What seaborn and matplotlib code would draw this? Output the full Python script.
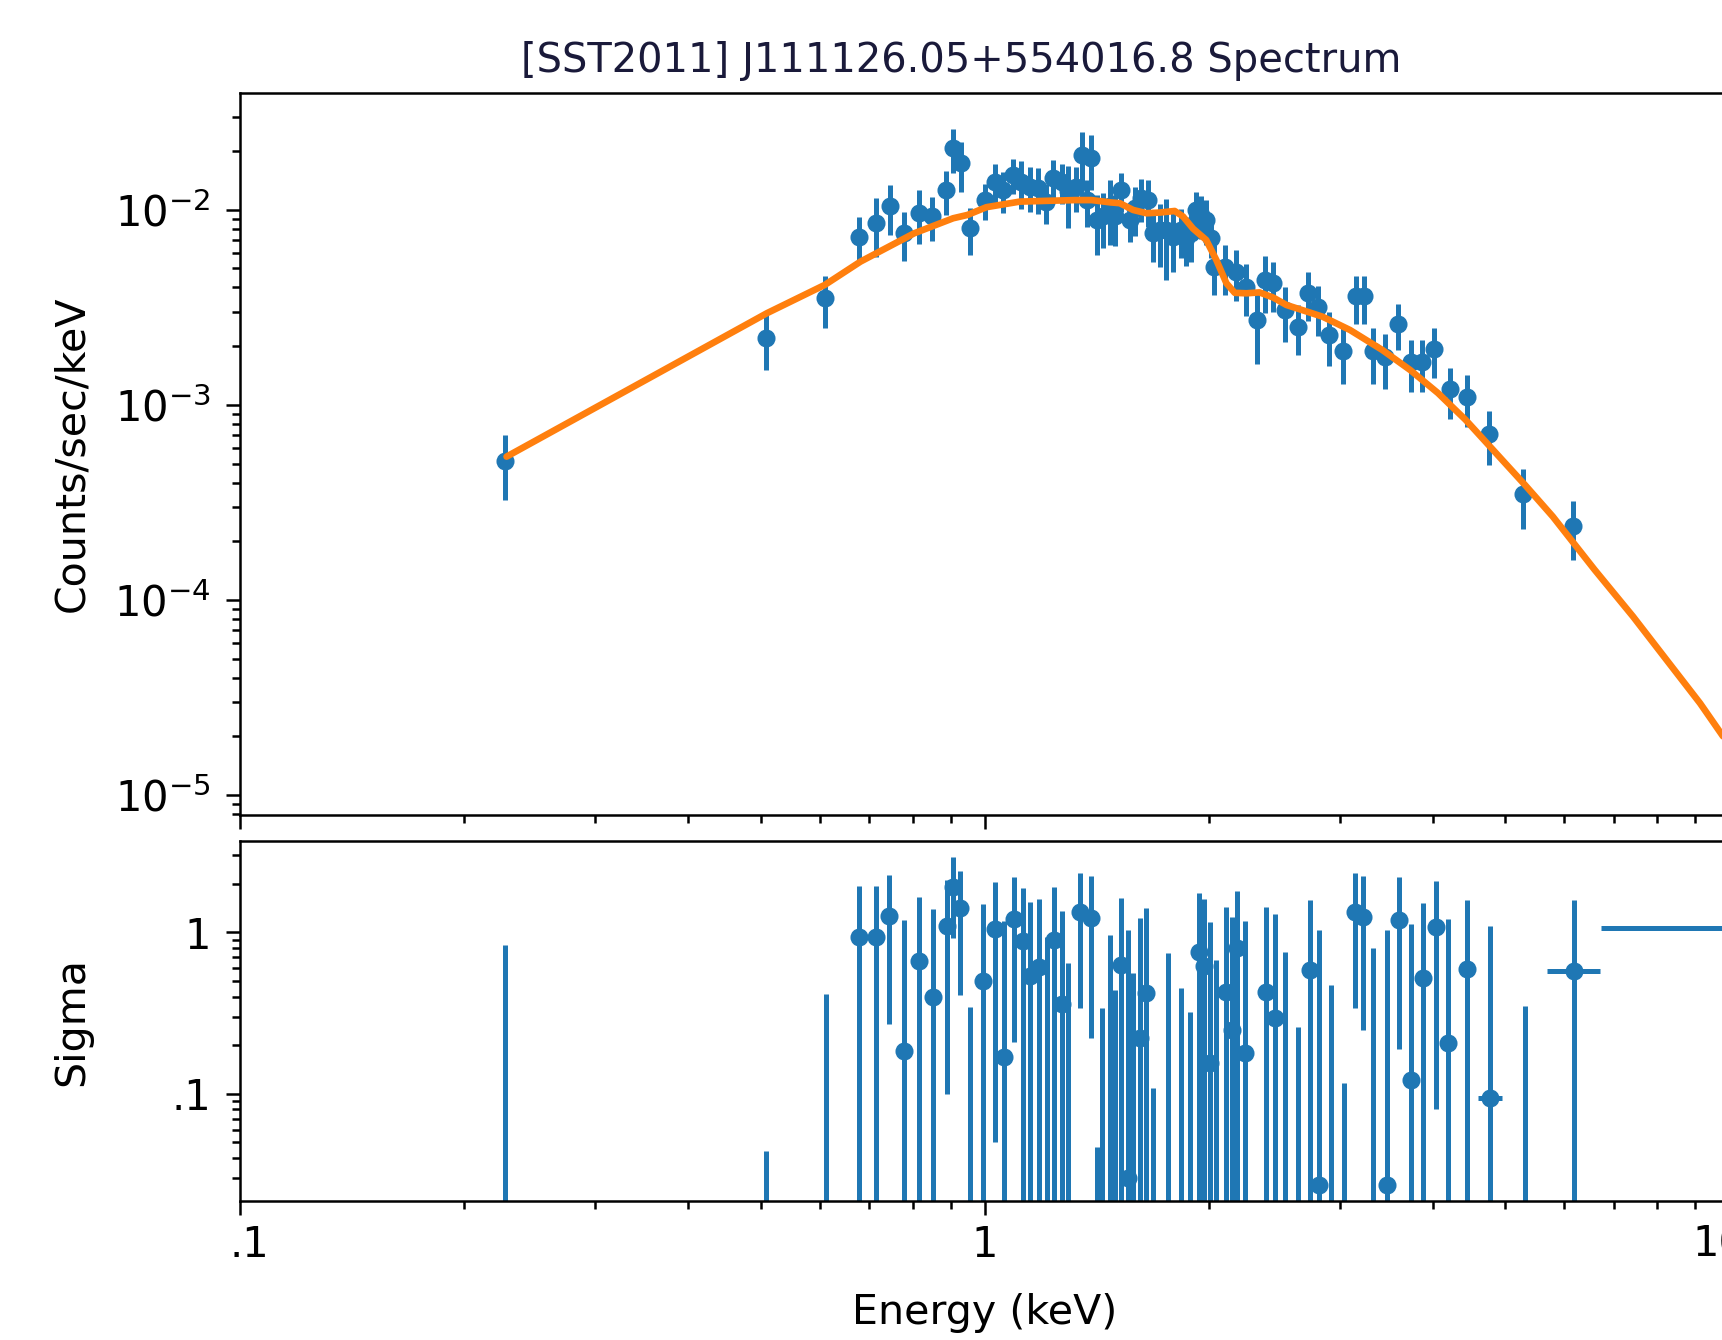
import matplotlib
matplotlib.use("Agg")
import matplotlib.pyplot as plt
import matplotlib.transforms as mtransforms
import seaborn as sns
from matplotlib.ticker import LogLocator, NullFormatter

# ---------------- data ----------------
title_text = "[SST2011] J111126.05+554016.8 Spectrum"

energy = [0.227, 0.508, 0.611, 0.678, 0.715, 0.745, 0.778, 0.815, 0.850, 0.888,
          0.907, 0.930, 0.955, 1.000, 1.031, 1.058, 1.092, 1.120, 1.149, 1.179,
          1.210, 1.235, 1.268, 1.294, 1.328, 1.349, 1.370, 1.391, 1.413, 1.442,
          1.472, 1.495, 1.526, 1.565, 1.590, 1.623, 1.657, 1.683, 1.718, 1.753,
          1.789, 1.835, 1.864, 1.892, 1.922, 1.952, 1.982, 2.013, 2.034, 2.099,
          2.177, 2.246, 2.318, 2.377, 2.439, 2.529, 2.635, 2.717, 2.800, 2.900,
          3.030, 3.150, 3.230, 3.320, 3.450, 3.590, 3.730, 3.870, 4.010, 4.210,
          4.440, 4.750, 5.280, 6.170]

counts = [5.14e-4, 2.20e-3, 3.52e-3, 7.28e-3, 8.59e-3, 1.045e-2, 7.58e-3, 9.66e-3, 9.25e-3, 1.26e-2,
          2.07e-2, 1.73e-2, 8.04e-3, 1.12e-2, 1.39e-2, 1.26e-2, 1.51e-2, 1.39e-2, 1.31e-2, 1.29e-2,
          1.10e-2, 1.45e-2, 1.39e-2, 1.24e-2, 1.31e-2, 1.91e-2, 1.12e-2, 1.84e-2, 8.87e-3, 9.23e-3,
          1.04e-2, 9.23e-3, 1.26e-2, 8.87e-3, 1.02e-2, 1.15e-2, 1.12e-2, 7.57e-3, 7.88e-3, 7.88e-3,
          7.28e-3, 7.88e-3, 7.15e-3, 7.57e-3, 9.97e-3, 9.40e-3, 8.87e-3, 7.15e-3, 5.11e-3, 5.11e-3,
          4.82e-3, 4.04e-3, 2.72e-3, 4.37e-3, 4.20e-3, 3.07e-3, 2.52e-3, 3.73e-3, 3.16e-3, 2.29e-3,
          1.88e-3, 3.60e-3, 3.60e-3, 1.88e-3, 1.76e-3, 2.60e-3, 1.66e-3, 1.66e-3, 1.93e-3, 1.20e-3,
          1.10e-3, 7.10e-4, 3.50e-4, 2.40e-4]

counts_err = [1.9e-4, 6.9e-4, 1.05e-3, 1.9e-3, 2.9e-3, 3.0e-3, 2.1e-3, 3.0e-3, 2.3e-3, 3.2e-3,
              5.3e-3, 5.0e-3, 2.2e-3, 2.35e-3, 3.2e-3, 3.0e-3, 3.1e-3, 3.8e-3, 3.4e-3, 3.4e-3,
              2.6e-3, 3.4e-3, 3.2e-3, 4.3e-3, 3.4e-3, 6.0e-3, 3.0e-3, 5.8e-3, 3.0e-3, 2.9e-3,
              3.8e-3, 2.7e-3, 2.9e-3, 2.0e-3, 2.9e-3, 2.9e-3, 3.0e-3, 2.2e-3, 2.8e-3, 3.5e-3,
              2.5e-3, 2.2e-3, 2.0e-3, 2.2e-3, 2.4e-3, 2.3e-3, 2.3e-3, 1.5e-3, 1.45e-3, 1.45e-3,
              1.4e-3, 1.2e-3, 1.1e-3, 1.4e-3, 1.2e-3, 0.97e-3, 0.72e-3, 1.05e-3, 0.9e-3, 0.7e-3,
              0.6e-3, 1.0e-3, 1.0e-3, 0.6e-3, 0.55e-3, 0.7e-3, 0.5e-3, 0.5e-3, 0.55e-3, 0.35e-3,
              0.33e-3, 2.2e-4, 1.2e-4, 0.8e-4]

model_energy = [0.228, 0.510, 0.610, 0.681, 0.804, 0.907, 0.948, 1.005, 1.114, 1.208,
                1.321, 1.392, 1.475, 1.518, 1.582, 1.649, 1.718, 1.799, 1.846, 1.904,
                1.983, 2.046, 2.111, 2.166, 2.246, 2.338, 2.439, 2.541, 2.676, 2.842,
                3.093, 3.419, 3.725, 4.060, 4.420, 4.810, 5.310, 5.790, 6.590, 7.420,
                8.230, 9.130, 9.850]
model_counts = [5.43e-4, 2.95e-3, 4.12e-3, 5.42e-3, 7.57e-3, 9.04e-3, 9.40e-3, 1.03e-2, 1.10e-2, 1.11e-2,
                1.12e-2, 1.12e-2, 1.09e-2, 1.08e-2, 9.97e-3, 9.59e-3, 9.67e-3, 9.85e-3, 9.23e-3, 8.00e-3,
                7.00e-3, 5.53e-3, 4.20e-3, 3.75e-3, 3.73e-3, 3.77e-3, 3.55e-3, 3.25e-3, 3.05e-3, 2.83e-3,
                2.42e-3, 1.91e-3, 1.51e-3, 1.15e-3, 8.40e-4, 5.90e-4, 3.90e-4, 2.68e-4, 1.43e-4, 8.24e-5,
                4.94e-5, 2.96e-5, 1.95e-5]

resid_energy = [0.227, 0.508, 0.612, 0.677, 0.714, 0.743, 0.778, 0.815, 0.851, 0.889,
                0.907, 0.926, 0.955, 0.995, 1.032, 1.061, 1.094, 1.124, 1.149, 1.181,
                1.211, 1.238, 1.268, 1.294, 1.341, 1.391, 1.413, 1.435, 1.472, 1.495,
                1.526, 1.558, 1.582, 1.615, 1.645, 1.683, 1.763, 1.837, 1.885, 1.939,
                1.969, 2.005, 2.047, 2.107, 2.145, 2.183, 2.235, 2.385, 2.452, 2.529,
                2.635, 2.733, 2.813, 2.915, 3.038, 3.141, 3.223, 3.325, 3.464, 3.598,
                3.734, 3.880, 4.032, 4.192, 4.440, 4.770, 5.320, 6.190, 10.50]
resid_sigma = [-0.17, -0.956, -0.585, 0.93, 0.93, 1.27, 0.185, 0.668, 0.396, 1.10,
               1.92, 1.41, -0.656, 0.50, 1.05, 0.169, 1.21, 0.89, 0.54, 0.61,
               -0.07, 0.90, 0.36, -0.357, 1.34, 1.22, -0.953, -0.662, -0.04, -0.56,
               0.627, 0.03, -0.443, 0.22, 0.419, -0.892, -0.259, -0.55, -0.678, 0.76,
               0.62, 0.154, -0.326, 0.429, 0.25, 0.796, 0.178, 0.429, 0.293, -0.241,
               -0.74, 0.584, 0.027, -0.528, -0.884, 1.34, 1.25, -0.204, 0.027, 1.19,
               0.122, 0.519, 1.08, 0.205, 0.593, 0.094, -0.648, 0.579, 1.07]
resid_err = [1.0, 1.0, 1.0, 1.0, 1.0, 1.0, 1.0, 1.0, 1.0, 1.0,
             1.0, 1.0, 1.0, 1.0, 1.0, 1.0, 1.0, 1.0, 1.0, 1.0,
             1.0, 1.0, 1.0, 1.0, 1.0, 1.0, 1.0, 1.0, 1.0, 1.0,
             1.0, 1.0, 1.0, 1.0, 1.0, 1.0, 1.0, 1.0, 1.0, 1.0,
             1.0, 1.0, 1.0, 1.0, 1.0, 1.0, 1.0, 1.0, 1.0, 1.0,
             1.0, 1.0, 1.0, 1.0, 1.0, 1.0, 1.0, 1.0, 1.0, 1.0,
             1.0, 1.0, 1.0, 1.0, 1.0, 1.0, 1.0, 1.0, 1.0]
resid_xerr = [0.0, 0.0, 0.0, 0.0, 0.0, 0.0, 0.0, 0.0, 0.0, 0.0,
              0.0, 0.0, 0.0, 0.0, 0.0, 0.0, 0.0, 0.0, 0.0, 0.0,
              0.0, 0.0, 0.0, 0.0, 0.0, 0.0, 0.0, 0.0, 0.0, 0.0,
              0.0, 0.0, 0.0, 0.0, 0.0, 0.0, 0.0, 0.0, 0.0, 0.0,
              0.0, 0.0, 0.0, 0.0, 0.0, 0.0, 0.0, 0.0, 0.0, 0.0,
              0.0, 0.0, 0.0, 0.0, 0.0, 0.0, 0.0, 0.0, 0.0, 0.0,
              0.0, 0.0, 0.0, 0.0, 0.0, 0.18, 0.0, 0.51, 3.78]

x_ticks = [0.1, 1, 10]
x_tick_labels = [".1", "1", "10"]
sigma_ticks = [0.1, 1]
sigma_tick_labels = [".1", "1"]

# ---------------- style ----------------
sns.set_style("ticks")
plt.rcParams["font.family"] = ["DejaVu Sans"]
plt.rcParams["axes.edgecolor"] = "black"
plt.rcParams["axes.linewidth"] = 0.9
plt.rcParams["text.color"] = "black"
plt.rcParams["xtick.color"] = "black"
plt.rcParams["ytick.color"] = "black"

BLUE = "#1f77b4"
ORANGE = "#ff7f0e"
DPI = 200
TICK_FS = 15.0
LABEL_FS = 14.8

fig = plt.figure(figsize=(1722 / DPI, 1340 / DPI), dpi=DPI)
ax1 = fig.add_axes([0.13937, 0.3918, 0.86498, 0.5386])
ax2 = fig.add_axes([0.13937, 0.1034, 0.86498, 0.2688])

for ax in (ax1, ax2):
    ax.set_xscale("log")
    ax.set_yscale("log")
    ax.set_xlim(0.1, 10)
    for sp in ax.spines.values():
        sp.set_visible(True)
        sp.set_linewidth(0.9)
        sp.set_color("black")
    ax.tick_params(which="major", direction="out", length=5.0, width=0.9,
                   labelsize=TICK_FS, top=False, right=False)
    ax.tick_params(which="minor", direction="out", length=3.0, width=0.9,
                   top=False, right=False)
    ax.tick_params(axis="y", which="major", pad=5.5)
    ax.tick_params(axis="x", which="major", pad=3.0)

# ---- top panel: spectrum ----
ax1.errorbar(energy, counts, yerr=counts_err, fmt="o", color=BLUE, ms=5.5,
             elinewidth=1.8, capsize=0, zorder=2)
sns.lineplot(x=model_energy, y=model_counts, ax=ax1, color=ORANGE,
             linewidth=2.4, zorder=3, sort=False)
ax1.set_ylim(7.92e-6, 0.0395)
ax1.yaxis.set_major_locator(LogLocator(base=10))
ax1.yaxis.set_minor_locator(LogLocator(base=10, subs=range(2, 10)))
ax1.yaxis.set_minor_formatter(NullFormatter())
ax1.xaxis.set_minor_locator(LogLocator(base=10, subs=range(2, 10)))
ax1.xaxis.set_minor_formatter(NullFormatter())
ax1.set_xticks(x_ticks)
ax1.tick_params(axis="x", labelbottom=False)
ax1.set_xlim(0.1, 10)
ax1.set_xlabel("")
ax1.set_ylabel("")

# ---- bottom panel: residuals in sigma ----
ax2.errorbar(resid_energy, resid_sigma, yerr=resid_err, xerr=resid_xerr, fmt="o",
             color=BLUE, ms=5.5, elinewidth=1.8, capsize=0, zorder=2)
ax2.set_ylim(0.0215, 3.67)
ax2.set_yticks(sigma_ticks, labels=sigma_tick_labels)
ax2.yaxis.set_minor_locator(LogLocator(base=10, subs=range(2, 10)))
ax2.yaxis.set_minor_formatter(NullFormatter())
ax2.set_xticks(x_ticks, labels=x_tick_labels)
ax2.xaxis.set_minor_locator(LogLocator(base=10, subs=range(2, 10)))
ax2.xaxis.set_minor_formatter(NullFormatter())
ax2.set_xlim(0.1, 10)
ax2.set_ylim(0.0215, 3.67)

# nudge the end x tick labels inward, as in the reference
xlabels = ax2.get_xticklabels()
shift_first = mtransforms.ScaledTranslation(9 / DPI, 0, fig.dpi_scale_trans)
shift_last = mtransforms.ScaledTranslation(-11 / DPI, 0, fig.dpi_scale_trans)
xlabels[0].set_transform(xlabels[0].get_transform() + shift_first)
xlabels[-1].set_transform(xlabels[-1].get_transform() + shift_last)

# ---- texts ----
fig.text(0.558, 0.9545, title_text, ha="center", va="center", fontsize=14.4,
         color="#1a1a3a")
fig.text(0.0421, 0.6612, "Counts/sec/keV", rotation=90, ha="center", va="center",
         fontsize=LABEL_FS)
fig.text(0.0421, 0.2375, "Sigma", rotation=90, ha="center", va="center",
         fontsize=LABEL_FS)
fig.text(0.572, 0.0200, "Energy (keV)", ha="center", va="center", fontsize=LABEL_FS)

fig.savefig("out.png", dpi=DPI)
